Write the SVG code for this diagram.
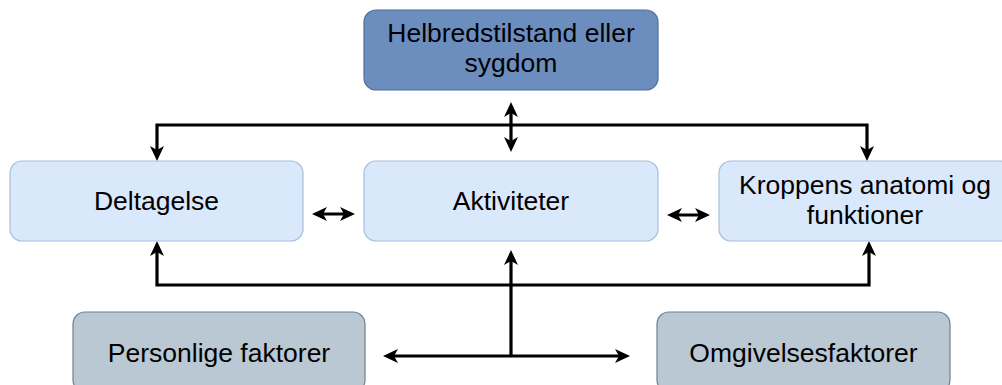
<svg xmlns="http://www.w3.org/2000/svg" width="1002" height="385" viewBox="0 0 1002 385">
<style>
.t{font-family:"Liberation Sans",Arial,sans-serif;font-size:26.5px;fill:#000;text-anchor:middle}
.top{fill:#6c8ebf;stroke:#4f6f9c;stroke-width:1.2}
.mid{fill:#dae8fc;stroke:#a8bedb;stroke-width:1.2}
.bot{fill:#bac8d3;stroke:#6d8090;stroke-width:1.2}
.c{fill:none;stroke:#000;stroke-width:3.2;marker-end:url(#ah)}
.d{marker-start:url(#ah)}
</style>
<defs>
<marker id="ah" viewBox="0 0 15 14" refX="10" refY="7" markerWidth="15" markerHeight="14" markerUnits="userSpaceOnUse" orient="auto-start-reverse">
<path d="M0,0 L15,7 L0,14 L4,7 z" fill="#000"/>
</marker>
</defs>
<g id="connectors">
<path class="c d" d="M157,156 V125 H867 V156"/>
<path class="c d" d="M157,246 V285 H869 V246"/>
<path class="c d" d="M511,107 V147"/>
<path class="c" d="M511,356 V255"/>
<path class="c d" d="M388,356 H625"/>
<path class="c d" d="M317,214 H350"/>
<path class="c d" d="M672,215 H705"/>
</g>
<g id="helbred">
<rect class="top" x="364" y="10" width="294" height="80" rx="12"/>
<text class="t" x="511" y="42">Helbredstilstand eller</text>
<text class="t" x="511" y="72">sygdom</text>
</g>
<g id="deltagelse">
<rect class="mid" x="10" y="161" width="293" height="80" rx="12"/>
<text class="t" x="156.5" y="210">Deltagelse</text>
</g>
<g id="aktiviteter">
<rect class="mid" x="364" y="161" width="294" height="80" rx="12"/>
<text class="t" x="511" y="210">Aktiviteter</text>
</g>
<g id="kroppens">
<rect class="mid" x="719" y="161" width="294" height="80" rx="12"/>
<text class="t" x="865" y="194">Kroppens anatomi og</text>
<text class="t" x="865" y="224">funktioner</text>
</g>
<g id="personlige">
<rect class="bot" x="73" y="312" width="292" height="80" rx="12"/>
<text class="t" x="219" y="362">Personlige faktorer</text>
</g>
<g id="omgivelses">
<rect class="bot" x="657" y="312" width="293" height="80" rx="12"/>
<text class="t" x="803.5" y="362">Omgivelsesfaktorer</text>
</g>
</svg>
